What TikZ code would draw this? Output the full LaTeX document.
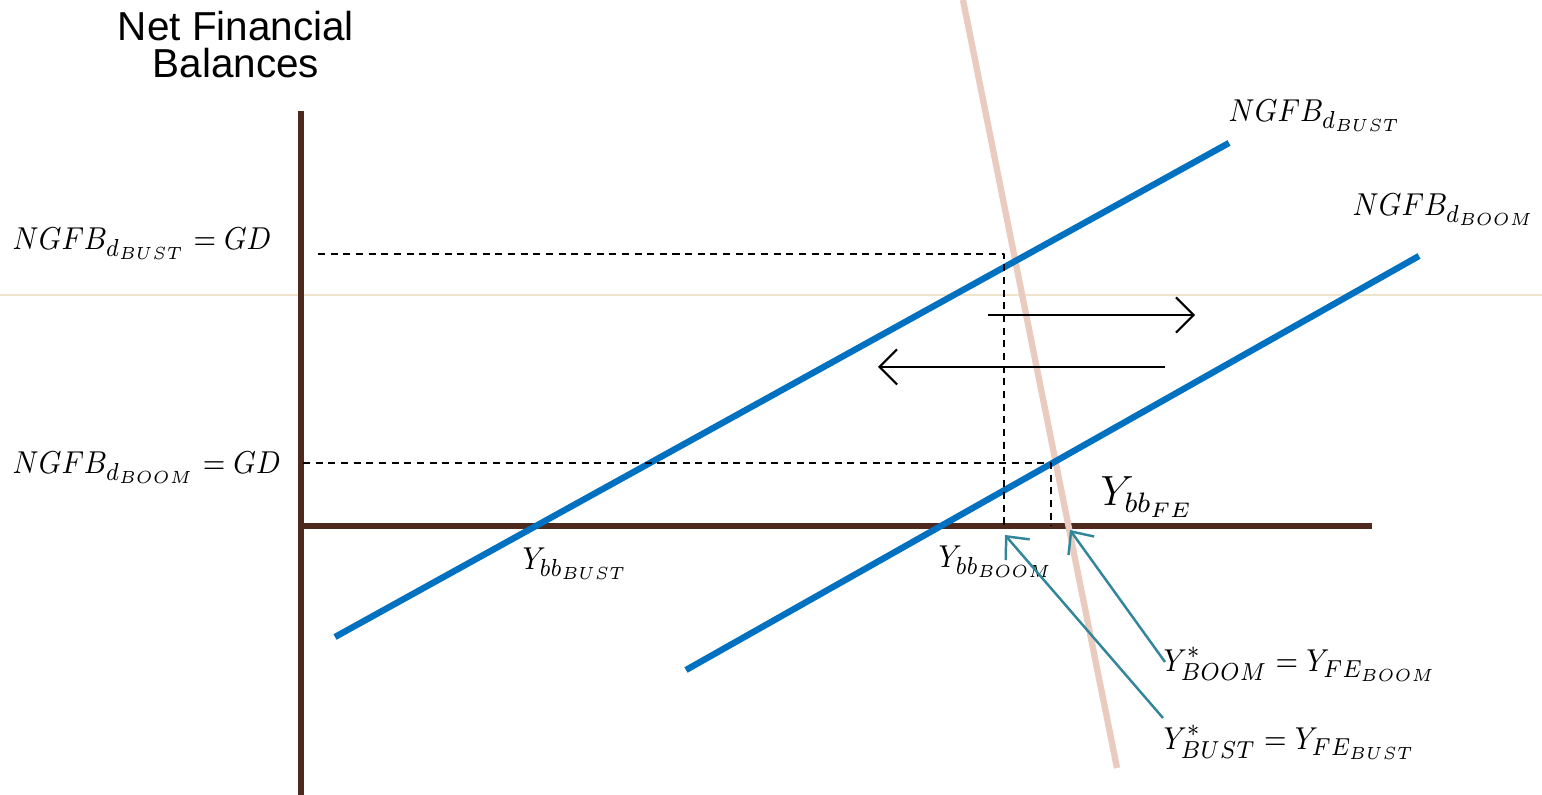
\documentclass[tikz,border=0pt]{standalone}
\usepackage{amsmath}
\usepackage{graphicx}
\usepackage{fontspec}
\setsansfont{Liberation Sans}
\usetikzlibrary{arrows.meta}
\definecolor{axisbrown}{HTML}{4E2A1E}
\definecolor{ngfbblue}{HTML}{0070C0}
\definecolor{fepink}{HTML}{E9CBBF}
\definecolor{pointteal}{HTML}{31869B}
\definecolor{seamtan}{HTML}{EFE3CB}
% narrower set math for the labels
\newcommand{\squeezed}[1]{\scalebox{0.89}[1]{$#1$}}
\tikzset{
	axisline/.style={axisbrown,line width=1.9pt},
	ngfbline/.style={ngfbblue,line width=1.8pt},
	guide/.style={dash pattern=on 2pt off 1.6pt,line width=0.6pt},
	shift arrow/.style={-{Straight Barb[length=5pt,width=10pt]},line width=0.6pt},
	pointer/.style={pointteal,-{Straight Barb[length=5pt,width=9pt]},line width=0.7pt},
	lbl/.style={anchor=base west,inner sep=0pt,font=\fontsize{9.5}{11}\selectfont},
}
\begin{document}
\begin{tikzpicture}[x=0.01cm,y=-0.01cm,line join=round]
	\useasboundingbox (0,0) rectangle (1542,795);
	\draw[seamtan,line width=0.4pt] (0,295)--(1542,295);
	% axes
	\draw[axisline] (301,111)--(301,795);
	\draw[axisline] (301,526)--(1372,526);
	\node (title) at (236,45)[align=center,font=\sffamily\fontsize{11.5}{10.5}\selectfont]{Net Financial\\Balances};
	% full employment line
	\draw[fepink,line width=1.8pt] (963,0)--(1117,768);
	% balance lines
	\draw[ngfbline] (335,637)--(1229,143);
	\draw[ngfbline] (686,670)--(1419,256);
	% levels
	\draw[guide] (318,254)--(1004,254)--(1004,526);
	\draw[guide] (303,463)--(1051,463)--(1051,526);
	% shifts
	\draw[shift arrow] (988,315)--(1195,315);
	\draw[shift arrow] (1165,367)--(878,367);
	% labels
	\node[lbl] (gdbust) at (12,250){\squeezed{NGFB_{d_{BUST}}=GD}};
	\node[lbl] (gdboom) at (12,474){\squeezed{NGFB_{d_{BOOM}}=GD}};
	\node[lbl] (ngfbbust) at (1228,122){\squeezed{NGFB_{d_{BUST}}}};
	\node[lbl] (ngfbboom) at (1352,216){\squeezed{NGFB_{d_{BOOM}}}};
	\node[lbl] (ybust) at (522,570){\squeezed{Y_{bb_{BUST}}}};
	\node[lbl] (yboom) at (938,568){\squeezed{Y_{bb_{BOOM}}}};
	\node[lbl,font=\fontsize{12}{14}\selectfont] (yfe) at (1100,506){$Y_{bb_{FE}}$};
	\node[lbl] (feboom) at (1163,672){\squeezed{Y^{*}_{BOOM}=Y_{FE_{BOOM}}}};
	\node[lbl] (febust) at (1163,750){\squeezed{Y^{*}_{BUST}=Y_{FE_{BUST}}}};
	\coordinate (boompt) at (1070,530);
	\coordinate (bustpt) at (1005,535);
	\draw[pointer] (1165,662)--(boompt);
	\draw[pointer] (1163,718)--(bustpt);
\end{tikzpicture}
\end{document}
